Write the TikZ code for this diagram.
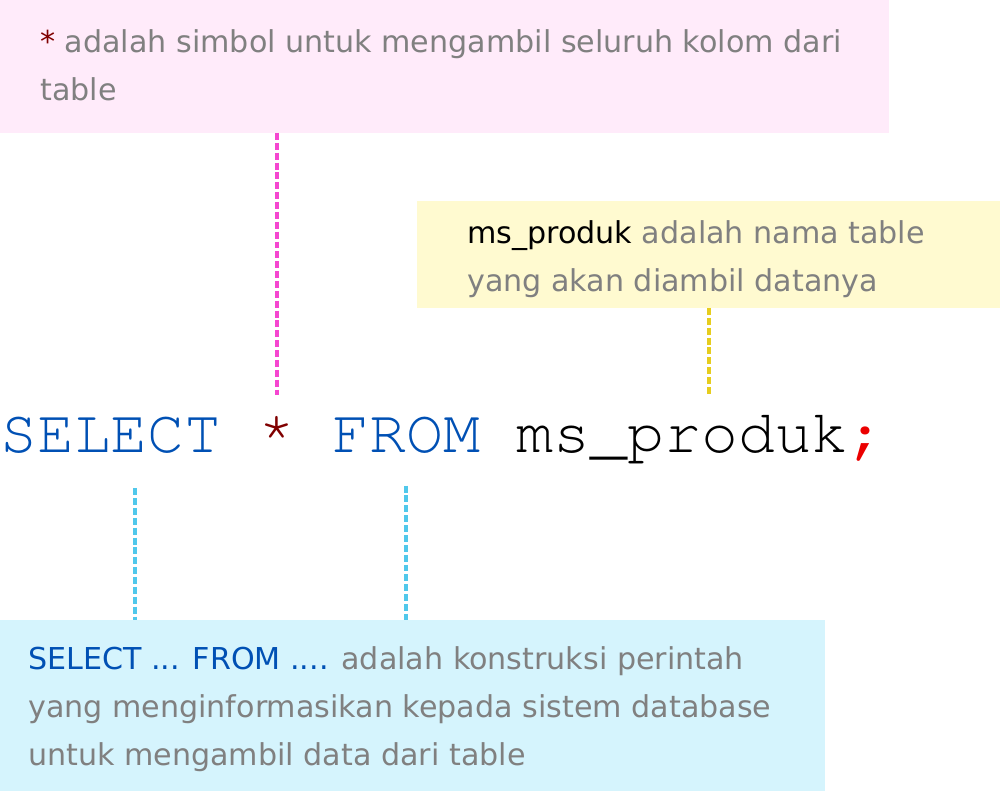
\documentclass[tikz,border=0pt]{standalone}
\usepackage[T1]{fontenc}
\usepackage{fontspec}
\setmainfont{DejaVu Sans}
\newcommand\codefont{\fontencoding{T1}\fontfamily{pcr}\selectfont}
\usetikzlibrary{positioning}

\newdimen\pxu \pxu=0.75pt

\definecolor{notegray}{RGB}{128,128,128}
\definecolor{kwblue}{RGB}{0,80,180}
\definecolor{stardark}{RGB}{128,0,0}
\definecolor{semired}{RGB}{235,0,0}
\definecolor{pinkbg}{RGB}{255,235,250}
\definecolor{yellowbg}{RGB}{255,250,208}
\definecolor{cyanbg}{RGB}{213,244,253}
\definecolor{pinkline}{RGB}{245,70,208}
\definecolor{yellowline}{RGB}{230,205,30}
\definecolor{cyanline}{RGB}{80,200,235}

\tikzset{
  notebox/.style={fill=#1, draw=none, anchor=north west, inner sep=0pt, outer sep=0pt},
  note/.style={anchor=base west, inner sep=0pt, align=left, text=notegray,
    font=\fontsize{22.6}{36}\selectfont},
  code/.style={anchor=base west, inner sep=0pt, text height=58\pxu, text depth=35\pxu,
    font=\codefont\fontsize{46.1}{46.1}\selectfont},
  guide/.style={draw=#1, line width=2.5pt, dash pattern=on 5.2pt off 2.2pt}
}

\begin{document}
\begin{tikzpicture}[x=0.75pt, y=-0.75pt]
\useasboundingbox (0,0) rectangle (1000,791);

% the three note boxes
\node[notebox=pinkbg, minimum width=889\pxu, minimum height=133\pxu] (starbox) at (0,0) {};
\node[notebox=yellowbg, minimum width=583\pxu, minimum height=107\pxu] (tablebox) at (417,201) {};
\node[notebox=cyanbg, minimum width=825\pxu, minimum height=171\pxu] (querybox) at (0,620) {};

% (placed at the baseline of their last line)
\node[note] (startext) at (40,101)
  {\textcolor{stardark}{*} adalah simbol untuk mengambil seluruh kolom dari\\ table};
\node[note] (tabletext) at (467,292)
  {\textcolor{black}{ms\_produk} adalah nama table\\ yang akan diambil datanya};
\node[note] (querytext) at (28,765)
  {\textcolor{kwblue}{SELECT ... FROM ....} adalah konstruksi perintah\\
   yang menginformasikan kepada sistem database\\ untuk mengambil data dari table};

% the query, one cell = 36.9px
\node[code, text=kwblue] (sel) at (0,453) {SELECT};
\node[code, text=stardark] (star) at (258.3,453) {\raisebox{10\pxu}{*}};
\node[code, text=kwblue] (frm) at (332.1,453) {FROM};
\node[code, text=black] (tbl) at (516.6,453) {ms\_produk};
\node[code, text=semired] (semi) at (848.7,453) {;};

% the guides
\draw[guide=pinkline] (star.north |- starbox.south) -- (star.north);
\draw[guide=yellowline] ([xshift=19.5pt]tbl.north |- tablebox.south) -- ([xshift=19.5pt]tbl.north);
\draw[guide=cyanline] ([xshift=18pt]sel.south) -- ([xshift=18pt]sel.south |- querybox.north);
\draw[guide=cyanline] ([yshift=2pt]frm.south) -- (frm.south |- querybox.north);
\end{tikzpicture}
\end{document}
